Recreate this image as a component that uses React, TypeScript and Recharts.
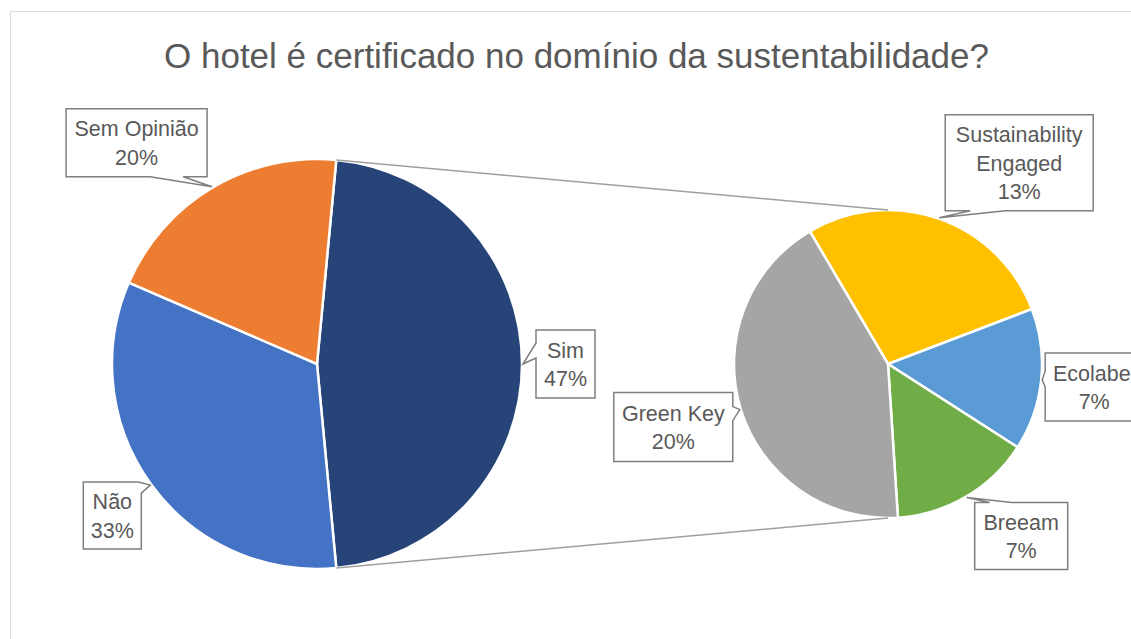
import React from 'react';
import { PieChart, Pie, Cell } from 'recharts';

// ---- data ----
const mainCategories = ['Sim', 'Não', 'Sem Opinião'];
const mainValues = [47, 33, 20];
const subCategories = ['Sustainability Engaged', 'Ecolabel', 'Breeam', 'Green Key'];
const subValues = [13, 7, 7, 20];
const titleText = 'O hotel é certificado no domínio da sustentabilidade?';

// ---- styles / layout ----
const mainColors = ['#264478', '#4472C4', '#ED7D31'];
const subColors = ['#FFC000', '#5B9BD5', '#70AD47', '#A5A5A5'];
const W = 1131;
const H = 639;
const MAIN = { cx: 317, cy: 364, r: 205 };
const SUB = { cx: 888, cy: 364, r: 154 };
const FONT = '"Liberation Sans", Arial, sans-serif';
const TEXT = '#595959';
const BOX_STROKE = '#7F7F7F';
const LINE_COLOR = '#A0A0A0';
const LABEL_SIZE = 21.5;
const LINE_GAP = 28.5;
const RAD = Math.PI / 180;

const mainData = mainCategories.map((name, i) => ({ name, value: mainValues[i] }));
const subData = subCategories.map((name, i) => ({ name, value: subValues[i] }));
const mainTotal = mainValues.reduce((a, b) => a + b, 0);
const splitShare = mainValues[0] / mainTotal;
const mainStart = (splitShare * 360) / 2;
const mainEnd = mainStart - 360;
const subStart = 120.5;
const subEnd = subStart - 360;

type Edge = 'top' | 'right' | 'bottom' | 'left' | 'topright';
type Box = { x: number; y: number; w: number; h: number; edge: Edge; a: number; b: number };

const mainBoxes: Box[] = [
  { x: 13, y: -34, w: 59, h: 68, edge: 'left', a: 13, b: 28 },
  { x: -67, y: -3, w: 58, h: 67, edge: 'topright', a: 55, b: 11 },
  { x: -146, y: -78, w: 141, h: 68, edge: 'bottom', a: 84, b: 117 },
];
const subBoxes: Box[] = [
  { x: 6, y: -103, w: 148, h: 96, edge: 'bottom', a: 25, b: 60 },
  { x: 3, y: -27, w: 98, h: 68, edge: 'left', a: 18, b: 34 },
  { x: 8, y: 5, w: 93, h: 67, edge: 'top', a: 15, b: 37 },
  { x: -126, y: -17, w: 119, h: 69, edge: 'right', a: 14, b: 28 },
];

function calloutPath(x0: number, y0: number, w: number, h: number, tx: number, ty: number, edge: Edge, a: number, b: number) {
  const x1 = x0 + w;
  const y1 = y0 + h;
  const pts: number[][] = [[x0, y0]];
  if (edge === 'top') pts.push([x0 + a, y0], [tx, ty], [x0 + b, y0]);
  if (edge === 'topright') pts.push([x0 + a, y0], [tx, ty], [x1, y0 + b]);
  else pts.push([x1, y0]);
  if (edge === 'right') pts.push([x1, y0 + a], [tx, ty], [x1, y0 + b]);
  pts.push([x1, y1]);
  if (edge === 'bottom') pts.push([x0 + b, y1], [tx, ty], [x0 + a, y1]);
  pts.push([x0, y1]);
  if (edge === 'left') pts.push([x0, y0 + b], [tx, ty], [x0, y0 + a]);
  return 'M' + pts.map((p) => p[0].toFixed(1) + ',' + p[1].toFixed(1)).join('L') + 'Z';
}

function splitName(name: string) {
  return name.length > 14 ? name.split(' ') : [name];
}

function makeLabel(boxes: Box[], isMain: boolean) {
  return (props: any) => {
    const { cx, cy, midAngle, outerRadius, index, name, value } = props;
    const r = outerRadius + 1;
    const tx = cx + r * Math.cos(-midAngle * RAD);
    const ty = cy + r * Math.sin(-midAngle * RAD);
    const bx = boxes[index];
    const x0 = tx + bx.x;
    const y0 = ty + bx.y;
    const pct = Math.round((value / mainTotal) * 100) + '%';
    const lines = [...splitName(name), pct];
    const n = lines.length;
    const mid = x0 + bx.w / 2;
    let connectors: React.ReactNode = null;
    if (isMain && index === 0) {
      const a1 = mainStart * RAD;
      const a2 = (mainStart - splitShare * 360) * RAD;
      const R = outerRadius;
      connectors = (
        <g stroke={LINE_COLOR} strokeWidth={1.5} fill="none">
          <line x1={cx + R * Math.cos(a1)} y1={cy - R * Math.sin(a1)} x2={SUB.cx} y2={SUB.cy - SUB.r} />
          <line x1={cx + R * Math.cos(a2)} y1={cy - R * Math.sin(a2)} x2={SUB.cx} y2={SUB.cy + SUB.r} />
        </g>
      );
    }
    return (
      <g>
        {connectors}
        <path d={calloutPath(x0, y0, bx.w, bx.h, tx, ty, bx.edge, bx.a, bx.b)} fill="#FFFFFF" stroke={BOX_STROKE} strokeWidth={1.5} />
        {lines.map((t, i) => (
          <text
            key={i}
            x={mid}
            y={y0 + bx.h / 2 + (i - (n - 1) / 2) * LINE_GAP + 8}
            textAnchor="middle"
            fontFamily={FONT}
            fontSize={LABEL_SIZE}
            fill={TEXT}
          >
            {t}
          </text>
        ))}
      </g>
    );
  };
}

export default function App() {
  return (
    <div style={{ position: 'absolute', left: 0, top: 0, width: W, height: H, background: '#FFFFFF', overflow: 'hidden' }}>
      <svg width={W} height={H} style={{ position: 'absolute', left: 0, top: 0 }}>
        <line x1={10.5} y1={11.5} x2={W} y2={11.5} stroke="#D9D9D9" strokeWidth={1} />
        <line x1={10.5} y1={11.5} x2={10.5} y2={H} stroke="#D9D9D9" strokeWidth={1} />
        <text x={576.5} y={68} textAnchor="middle" fontFamily={FONT} fontSize={35} fill={TEXT}>
          {titleText}
        </text>
      </svg>
      <div style={{ position: 'absolute', left: 0, top: 0 }}>
        <PieChart width={W} height={H} margin={{ top: 0, right: 0, bottom: 0, left: 0 }}>
          <Pie
            data={mainData}
            dataKey="value"
            nameKey="name"
            cx={MAIN.cx}
            cy={MAIN.cy}
            outerRadius={MAIN.r}
            startAngle={mainStart}
            endAngle={mainEnd}
            stroke="#FFFFFF"
            strokeWidth={2.5}
            isAnimationActive={false}
            labelLine={false}
            label={makeLabel(mainBoxes, true)}
          >
            {mainData.map((d, i) => (
              <Cell key={d.name} fill={mainColors[i]} />
            ))}
          </Pie>
          <Pie
            data={subData}
            dataKey="value"
            nameKey="name"
            cx={SUB.cx}
            cy={SUB.cy}
            outerRadius={SUB.r}
            startAngle={subStart}
            endAngle={subEnd}
            stroke="#FFFFFF"
            strokeWidth={2.5}
            isAnimationActive={false}
            labelLine={false}
            label={makeLabel(subBoxes, false)}
          >
            {subData.map((d, i) => (
              <Cell key={d.name} fill={subColors[i]} />
            ))}
          </Pie>
        </PieChart>
      </div>
    </div>
  );
}
